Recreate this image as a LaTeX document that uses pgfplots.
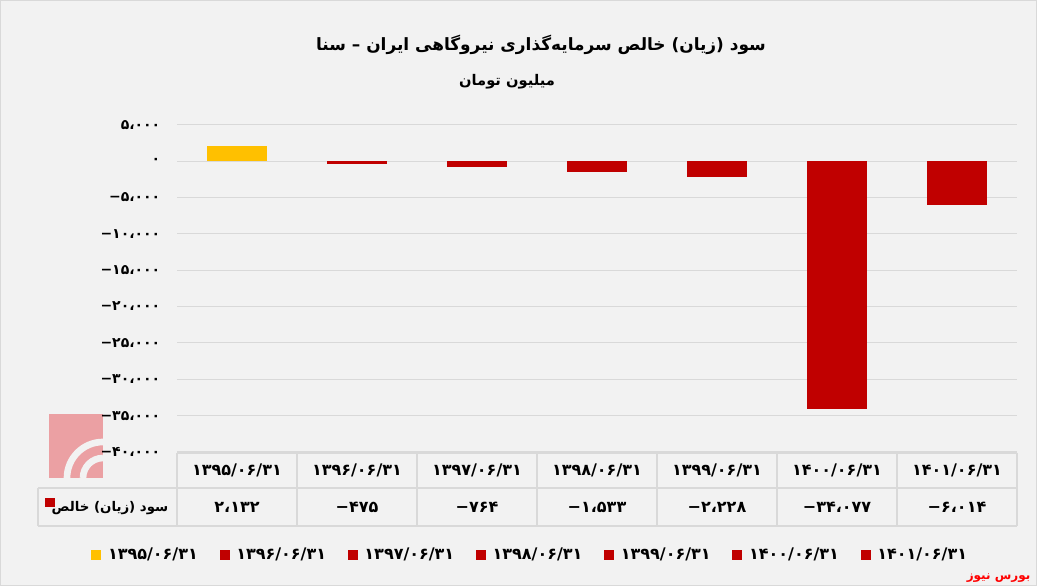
\documentclass[border=0pt]{standalone}
\usepackage{pgfplots}
\pgfplotsset{compat=1.18}
\usepackage{fontspec}
\TeXXeTstate=1
\newfontfamily\arabicfont[Script=Arabic]{DejaVu Sans}
\newfontfamily\numfont{DejaVu Sans}
\definecolor{bg}{HTML}{F2F2F2}
\definecolor{gridc}{HTML}{D9D9D9}
\definecolor{ybarc}{HTML}{FFC000}
\definecolor{rbarc}{HTML}{C00000}
\definecolor{logoc}{HTML}{EBA0A3}
\definecolor{brand}{HTML}{FF0000}
\newcommand{\negnum}[1]{\beginL−\kern0pt #1\endL}
\begin{document}
\begin{tikzpicture}
\begin{scope}[x=0.75pt,y=-0.75pt,yshift=439.5pt]
\fill[bg] (0,0) rectangle (1037,586);
\draw[gridc,line width=0.75pt] (0.5,0.5) rectangle (1036.5,585.5);
% watermark logo
\fill[logoc] (49,414) rectangle (103,478);
\draw[bg,line width=5] (103,478) ++(180:20) arc (180:270:20);
\draw[bg,line width=5] (103,478) ++(180:36) arc (180:270:36);
\end{scope}

\begin{axis}[
  at={(132.75pt,100.5pt)}, anchor=south west,
  scale only axis, width=630pt, height=245.5pt,
  xmin=-0.5, xmax=6.5, ymin=-40000, ymax=5000,
  axis line style={draw=none},
  xtick=\empty,
  scaled y ticks=false,
  ytick={-40000,-35000,-30000,-25000,-20000,-15000,-10000,-5000,0,5000},
  yticklabels={−۴۰،۰۰۰,−۳۵،۰۰۰,−۳۰،۰۰۰,−۲۵،۰۰۰,−۲۰،۰۰۰,−۱۵،۰۰۰,−۱۰،۰۰۰,−۵،۰۰۰,۰,۵،۰۰۰},
  ymajorgrids, grid style={gridc, line width=0.75pt},
  major tick length=0pt,
  yticklabel style={font=\numfont\bfseries\fontsize{10.5}{12}\selectfont, xshift=-9pt},
  ybar, bar width=45pt,
  legend image code/.code={\fill[#1] (0pt,-3.75pt) rectangle (7.5pt,3.75pt);},
  legend columns=7,
  legend style={draw=none, fill=none, at={(-0.107,-0.314)}, anchor=west,
    font=\numfont\bfseries\fontsize{12}{14}\selectfont,
    /tikz/every odd column/.append style={column sep=3pt},
    /tikz/every even column/.append style={column sep=14.3pt}},
  clip=false,
]
\addplot[fill=ybarc, draw=none, bar shift=0pt] coordinates {(0,2132)};
\addplot[fill=rbarc, draw=none, bar shift=0pt] coordinates {(1,-475)};
\addplot[fill=rbarc, draw=none, bar shift=0pt] coordinates {(2,-764)};
\addplot[fill=rbarc, draw=none, bar shift=0pt] coordinates {(3,-1533)};
\addplot[fill=rbarc, draw=none, bar shift=0pt] coordinates {(4,-2228)};
\addplot[fill=rbarc, draw=none, bar shift=0pt] coordinates {(5,-34077)};
\addplot[fill=rbarc, draw=none, bar shift=0pt] coordinates {(6,-6014)};
\legend{۱۳۹۵/۰۶/۳۱,۱۳۹۶/۰۶/۳۱,۱۳۹۷/۰۶/۳۱,۱۳۹۸/۰۶/۳۱,۱۳۹۹/۰۶/۳۱,۱۴۰۰/۰۶/۳۱,۱۴۰۱/۰۶/۳۱}
\end{axis}

\begin{scope}[x=0.75pt,y=-0.75pt,yshift=439.5pt]
% table grid
\draw[gridc,line width=1.1pt] (177,453) -- (1017,453);
\draw[gridc,line width=1.1pt] (38,488) -- (1017,488);
\draw[gridc,line width=1.1pt] (38,526) -- (1017,526);
\foreach \k in {0,...,7} {\draw[gridc,line width=1.1pt] ({177+120*\k},453) -- ({177+120*\k},526);}
\draw[gridc,line width=1.1pt] (38,488) -- (38,526);
% categories & values
\begin{scope}[every node/.style={font=\numfont\bfseries\fontsize{12}{14}\selectfont}]
\node at (237,470) {۱۳۹۵/۰۶/۳۱};
\node at (357,470) {۱۳۹۶/۰۶/۳۱};
\node at (477,470) {۱۳۹۷/۰۶/۳۱};
\node at (597,470) {۱۳۹۸/۰۶/۳۱};
\node at (717,470) {۱۳۹۹/۰۶/۳۱};
\node at (837,470) {۱۴۰۰/۰۶/۳۱};
\node at (957,470) {۱۴۰۱/۰۶/۳۱};
\node at (237,507) {۲،۱۳۲};
\node at (357,507) {\negnum{۴۷۵}};
\node at (477,507) {\negnum{۷۶۴}};
\node at (597,507) {\negnum{۱،۵۳۳}};
\node at (717,507) {\negnum{۲،۲۲۸}};
\node at (837,507) {\negnum{۳۴،۰۷۷}};
\node at (957,507) {\negnum{۶،۰۱۴}};
\end{scope}
\fill[rbarc] (45,498) rectangle (55,507);
\node[anchor=east,font=\arabicfont\bfseries\fontsize{10}{12}\selectfont] at (173,508) {\beginR سود (زیان) خالص\endR};
% titles
\node[font=\arabicfont\bfseries\fontsize{12.7}{15}\selectfont] at (541,45) {\beginR سود (زیان) خالص سرمایه‌گذاری نیروگاهی ایران – سنا\endR};
\node[font=\arabicfont\bfseries\fontsize{11}{13}\selectfont] at (507,82) {\beginR میلیون تومان\endR};
\node[anchor=east,text=brand,font=\arabicfont\bfseries\fontsize{9}{11}\selectfont] at (1035,578) {\beginR بورس نیوز\endR};
\end{scope}
\end{tikzpicture}
\end{document}
